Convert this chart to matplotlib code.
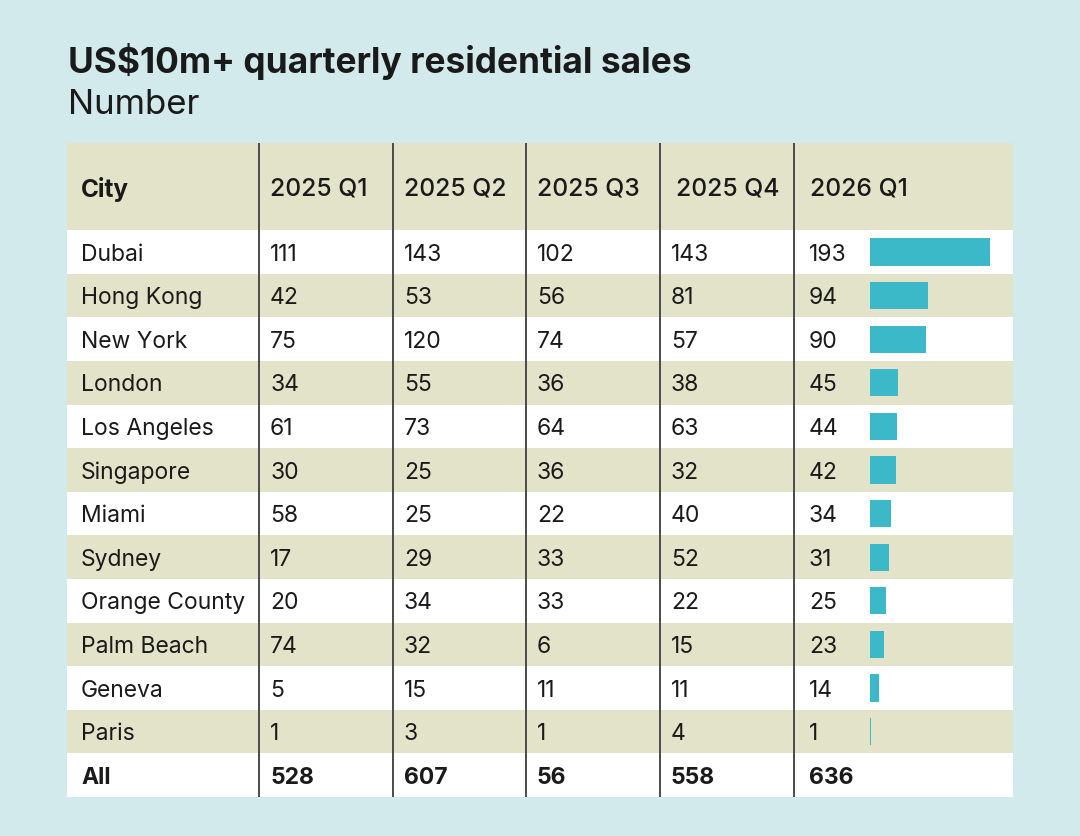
import matplotlib.pyplot as plt
from matplotlib.patches import Rectangle

plt.rcParams['font.family'] = ['Inter', 'DejaVu Sans']

cities = ["Dubai", "Hong Kong", "New York", "London", "Los Angeles", "Singapore",
          "Miami", "Sydney", "Orange County", "Palm Beach", "Geneva", "Paris"]
quarters = ["2025 Q1", "2025 Q2", "2025 Q3", "2025 Q4", "2026 Q1"]
q2025_1 = [111, 42, 75, 34, 61, 30, 58, 17, 20, 74, 5, 1]
q2025_2 = [143, 53, 120, 55, 73, 25, 25, 29, 34, 32, 15, 3]
q2025_3 = [102, 56, 74, 36, 64, 36, 22, 33, 33, 6, 11, 1]
q2025_4 = [143, 81, 57, 38, 63, 32, 40, 52, 22, 15, 11, 4]
q2026_1 = [193, 94, 90, 45, 44, 42, 34, 31, 25, 23, 14, 1]
totals = [528, 607, 56, 558, 636]

bg = "#d3eaed"
beige = "#e3e3c9"
bar_col = "#3bb9c9"
ink = "#1a1a1a"

W, H = 1080, 836
fig = plt.figure(figsize=(W / 100, H / 100), dpi=100)
fig.patch.set_facecolor(bg)

# table occupies x 67..1013, y 143..797 px; 15 row units (header = 2)
tl, tr, tt, tb = 67, 1013, 143, 797
ax = fig.add_axes([tl / W, (H - tb) / H, (tr - tl) / W, (tb - tt) / H])
ax.set_xlim(0, tr - tl)
ax.set_ylim(15, 0)
ax.axis("off")

n_rows = len(cities) + 1
ax.add_patch(Rectangle((0, 0), tr - tl, 2, color=beige, lw=0))
for i in range(n_rows):
    c = "white" if i % 2 == 0 else beige
    ax.add_patch(Rectangle((0, 2 + i), tr - tl, 1, color=c, lw=0))

dividers = [259, 393, 526, 660, 794]
for d in dividers:
    ax.plot([d - tl, d - tl], [0, 15], color="#4a4a4a", lw=1.4, solid_capstyle="butt")

fs = 16.5
dy = 0.06
ax.text(81 - tl, 1 + dy, "City", fontsize=17.5, fontweight="bold", color=ink, va="center")
head_x = [270, 404, 537, 676, 810]
for q, hx in zip(quarters, head_x):
    ax.text(hx - tl, 1 + dy, q, fontsize=17.8, fontweight="medium", color=ink, va="center")

cols = [q2025_1, q2025_2, q2025_3, q2025_4, q2026_1]
val_x = [270, 404, 537, 671, 809]
for i, city in enumerate(cities):
    y = 2.5 + i + dy
    ax.text(81 - tl, y, city, fontsize=fs, color=ink, va="center")
    for col, vx in zip(cols, val_x):
        ax.text(vx - tl, y, str(col[i]), fontsize=fs, color=ink, va="center")

y_all = 2.5 + len(cities) + dy
ax.text(81 - tl, y_all, "All", fontsize=fs, fontweight="bold", color=ink, va="center")
for t, vx in zip(totals, val_x):
    ax.text(vx - tl, y_all, str(t), fontsize=fs, fontweight="bold", color=ink, va="center")

# bar column: starts at 870 px, 193 reaches 990 px
bx0 = 870
bax = fig.add_axes([bx0 / W, (H - tb) / H, (tr - bx0) / W, (tb - tt) / H])
bax.set_xlim(0, 193 * (tr - bx0) / 120)
bax.set_ylim(15, 0)
bax.axis("off")
bax.barh([2.5 + i for i in range(len(cities))], q2026_1, height=0.62,
         color=bar_col, left=0)

fig.text(68 / W, 1 - 73 / H, "US$10m+ quarterly residential sales", fontsize=25.4,
         fontweight="bold", color=ink, va="baseline")
fig.text(68 / W, 1 - 114 / H, "Number", fontsize=25, color=ink, va="baseline")

fig.savefig("out.png", dpi=100, facecolor=bg)
